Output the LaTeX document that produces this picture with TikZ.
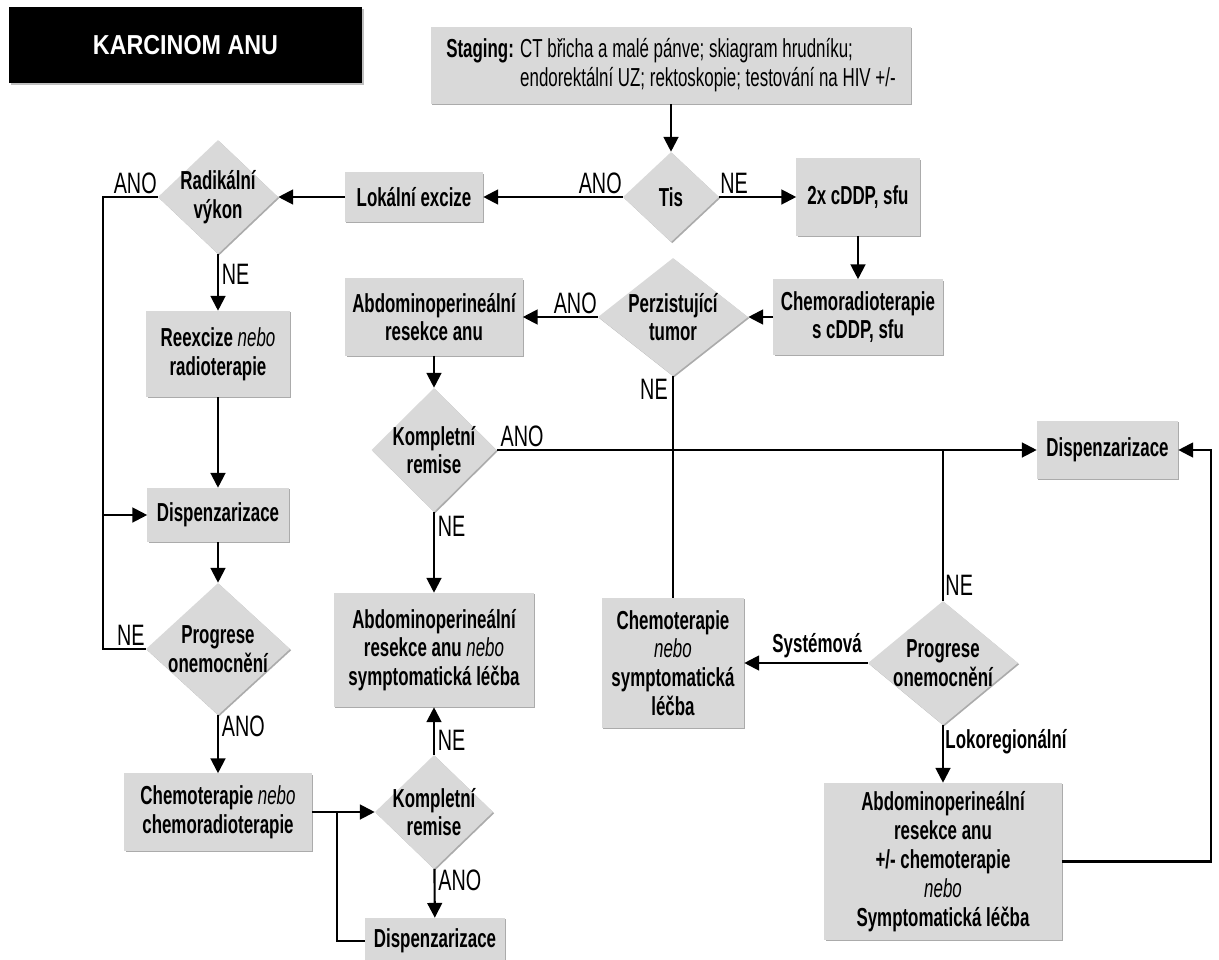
\documentclass[tikz,border=0pt]{standalone}
\usepackage{fontspec}
\setmainfont[FakeStretch=0.65]{Liberation Sans}
\newfontfamily\labelfont[FakeStretch=0.67]{Liberation Sans}
\newfontfamily\titlefont[FakeStretch=0.85]{Liberation Sans}
\usetikzlibrary{shapes.geometric,arrows.meta,shadows}
\definecolor{boxgray}{RGB}{217,217,217}
\newcommand\nebo{{\mdseries\itshape nebo}}
\newcommand\chartfont{\fontsize{18.5}{20.5}\selectfont}

\begin{document}
\begin{tikzpicture}[x=0.025cm,y=-0.025cm,
  every node/.style={font=\chartfont},
  softshadow/.style={drop shadow={shadow xshift=0.9pt,shadow yshift=-0.9pt,fill=black!60,opacity=0.55}},
  box/.style={rectangle,fill=boxgray,softshadow,align=center,inner sep=2pt,font=\chartfont\bfseries},
  decision/.style={diamond,fill=boxgray,softshadow,align=center,inner sep=-12pt,font=\chartfont\bfseries},
  flow/.style={line width=1.5pt},
  arr/.style={flow,-{Triangle[length=10.5pt,width=10.5pt]}},
  tag/.style={inner sep=0pt,font=\labelfont\fontsize{21}{22}\selectfont},
  btag/.style={inner sep=0pt,font=\chartfont\bfseries}
]
\useasboundingbox (0,0) rectangle (1219,960);
\clip (0,0) rectangle (1219,960);

% title bar
\node[fill=black,drop shadow={shadow xshift=1.5pt,shadow yshift=-1.5pt,fill=black!50,opacity=0.5},
      minimum width=8.825cm,minimum height=1.9cm,text=white,
      font=\titlefont\fontsize{19.5}{22}\selectfont\bfseries] (title) at (185.5,45) {KARCINOM ANU};

% staging
\node[box,font=\chartfont,align=left,minimum width=12cm,minimum height=1.925cm] (staging) at (671,65.5)
  {\textbf{Staging:} CT břicha a malé pánve; skiagram hrudníku;\\
   \phantom{\textbf{Staging:} }endorektální UZ; rektoskopie; testování na HIV +/-};

% upper row
\node[decision,minimum width=2.4cm,minimum height=2.25cm] (tis) at (671,197) {Tis};
\node[box,minimum width=3.45cm,minimum height=1.225cm] (lokalni) at (414,197) {Lokální excize};
\node[box,minimum width=3.075cm,minimum height=1.925cm] (cddp) at (858,197) {2x cDDP, sfu};
\node[decision,minimum width=3.0cm,minimum height=2.85cm] (radikal) at (218,197) {Radikální\\výkon};

% second row
\node[box,minimum width=4.225cm,minimum height=1.875cm] (chemorad) at (858,317) {Chemoradioterapie\\s cDDP, sfu};
\node[decision,minimum width=3.75cm,minimum height=2.95cm] (perz) at (673,317) {Perzistující\\tumor};
\node[box,minimum width=4.425cm,minimum height=1.925cm] (apr1) at (434,317) {Abdominoperineální\\resekce anu};
\node[box,minimum width=3.575cm,minimum height=2.15cm] (reex) at (218,354) {Reexcize \nebo\\radioterapie};

% middle
\node[decision,minimum width=3.125cm,minimum height=3.1cm] (komp1) at (434,450) {Kompletní\\remise};
\node[box,minimum width=3.525cm,minimum height=1.45cm] (disp2) at (1107.5,450) {Dispenzarizace};
\node[box,minimum width=3.525cm,minimum height=1.35cm] (disp1) at (218,515) {Dispenzarizace};
\node[box,minimum width=5.0cm,minimum height=2.85cm] (apr2) at (434,650) {Abdominoperineální\\resekce anu \nebo\\symptomatická léčba};
\node[decision,minimum width=3.6cm,minimum height=3.3cm] (prog1) at (218,649) {Progrese\\onemocnění};
\node[box,minimum width=3.55cm,minimum height=3.25cm] (chemo2) at (673,663) {Chemoterapie\\\nebo\\symptomatická\\léčba};
\node[decision,minimum width=3.75cm,minimum height=3.1cm] (prog2) at (943,663) {Progrese\\onemocnění};

% lower part
\node[box,minimum width=4.675cm,minimum height=1.925cm] (chemo1) at (218,812) {Chemoterapie \nebo\\chemoradioterapie};
\node[decision,minimum width=2.95cm,minimum height=2.85cm] (komp2) at (434,812) {Kompletní\\remise};
\node[box,minimum width=3.5cm,minimum height=1.15cm] (disp3) at (435,941) {Dispenzarizace};
\node[box,minimum width=5.925cm,minimum height=3.925cm] (apr3) at (943,861.5)
  {Abdominoperineální\\resekce anu\\+/- chemoterapie\\\nebo\\Symptomatická léčba};

% turning points
\coordinate (ljoin) at (103,515);
\coordinate (bjoin) at (337,812);
\coordinate (rturn) at (1211,450);
\coordinate (njoin) at (943,450);

% connectors
\draw[arr] (staging.south) -- (tis.north);
\draw[arr] (tis.west) -- (lokalni.east) node[tag,pos=0,anchor=south east,yshift=1.5pt]{ANO};
\draw[arr] (tis.east) -- (cddp.west) node[tag,pos=0,anchor=south west,yshift=1.5pt]{NE};
\draw[arr] (cddp) -- (chemorad);
\draw[arr] (lokalni) -- (radikal);
\draw[arr] (chemorad) -- (perz);
\draw[arr] (perz) -- (apr1) node[tag,pos=0,anchor=south east,yshift=1.5pt]{ANO};
\draw[arr] (apr1) -- (komp1);
\draw[arr] (komp1) -- (apr2) node[tag,pos=0,anchor=north west,xshift=2pt,yshift=-2pt]{NE};
\draw[arr] (komp1.east) -- (disp2.west) node[tag,pos=0,anchor=south west,xshift=2pt,yshift=1.5pt]{ANO};
\draw[flow] (perz.south) -- (chemo2.north) node[tag,pos=0,anchor=north east,xshift=-3pt,yshift=-1pt]{NE};
\draw[flow] (prog2.north) -- (njoin) node[tag,pos=0,anchor=south west,xshift=1pt,yshift=3pt]{NE};
\draw[arr] (prog2.west) -- (chemo2.east) node[btag,pos=0.41,anchor=south,yshift=3pt]{Systémová};
\draw[arr] (prog2) -- (apr3) node[btag,pos=0,anchor=north west,xshift=1pt,yshift=-2pt]{Lokoregionální};
\draw[arr] (apr3.east) -| (rturn) -- (disp2.east);
\draw[arr] (radikal) -- (reex) node[tag,pos=0,anchor=north west,xshift=2pt,yshift=-6pt]{NE};
\draw[arr] (radikal.west) node[tag,anchor=south east,yshift=1.5pt]{ANO} -| (ljoin) -- (disp1.west);
\draw[arr] (reex) -- (disp1);
\draw[arr] (disp1) -- (prog1);
\draw[flow] (prog1.west) node[tag,anchor=south east,yshift=1.5pt]{NE} -| (ljoin);
\draw[arr] (prog1) -- (chemo1) node[tag,pos=0,anchor=north west,xshift=2pt,yshift=0pt]{ANO};
\draw[arr] (chemo1.east) -- (bjoin) -- (komp2.west);
\draw[flow] (bjoin) |- (disp3.west);
\draw[arr] (komp2) -- (apr2) node[tag,pos=0,anchor=south west,xshift=2pt,yshift=2pt]{NE};
\draw[arr] (komp2) -- (disp3) node[tag,pos=0,anchor=north west,xshift=2pt,yshift=0pt]{ANO};
\end{tikzpicture}
\end{document}
